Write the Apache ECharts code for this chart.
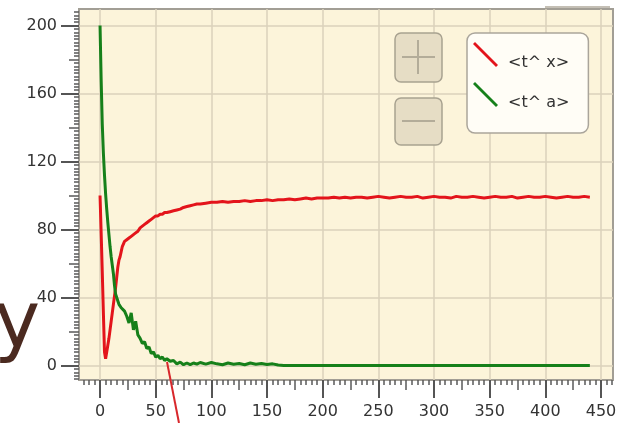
<!DOCTYPE html>
<html>
<head>
<meta charset="utf-8">
<script src="https://cdn.jsdelivr.net/npm/echarts@6/dist/echarts.min.js"></script>
<style>
  html, body { margin: 0; padding: 0; background: #fff; }
  #main { width: 625px; height: 423px; }
</style>
</head>
<body>
<div id="main"></div>
<script>
// time steps (x)
const steps = [0,1,2,3,4,5,6,7,8,9,10,11,12,13,14,15,16,17,18,19,20,
  22,24,26,28,30,32,34,36,38,40,42,44,46,48,50,52,54,56,58,60,
  63,66,69,72,75,78,81,84,87,90,
  95,100,105,110,115,120,125,130,135,140,145,150,155,160,165,170,175,180,185,190,
  195,200,205,210,215,220,225,230,235,240,245,250,255,260,265,270,275,280,285,290,
  295,300,305,310,315,320,325,330,335,340,345,350,355,360,365,370,375,380,385,390,
  395,400,405,410,415,420,425,430,435,440]

// <t^ x>  (red)
const tx = [100,78,55,31,8,4,8,12,16,21,26,31,36,41,46,52,58,62,64,67,70,
  73,74,75,76,77,78,79,81,82,83,84,85,86,87,88,88,89,89,90,90,
  90.5,91,91.5,92,93,93.5,94,94.5,95,95,
  95.5,96,96,96.5,96,96.5,96.5,97,96.5,97,97,97.5,97,97.5,97.5,98,97.5,98,98.5,98,
  98.5,98.5,98.5,99,98.5,99,98.5,99,99,98.5,99,99.5,99,98.5,99,99.5,99,99,99.5,98.5,
  99,99.5,99,99,98.5,99.5,99,99,99.5,99,98.5,99,99.5,99,99,99.5,98.5,99,99.5,99,
  99,99.5,99,98.5,99,99.5,99,99,99.5,99]

// <t^ a>  (green)
const ta = [200,168,142,125,112,101,92,84,77,70,64,59,54,47,42,40,38,36,35,34,33,
  32,29,25,31,21,26,18,16,13,14,10,11,7,8,5,6,4,5,3,4,
  2.5,3,1,2,0.5,1.5,0.5,1.5,0.8,1.8,
  0.8,1.8,1,0.5,1.5,0.8,1.2,0.5,1.5,0.8,1.2,0.6,1,0.3,0,0,0,0,0,0,
  0,0,0,0,0,0,0,0,0,0,0,0,0,0,0,0,0,0,0,0,
  0,0,0,0,0,0,0,0,0,0,0,0,0,0,0,0,0,0,0,0,
  0,0,0,0,0,0,0,0,0,0]

const seriesNames = ['<t^ x>', '<t^ a>']
const xTickLabels = [0, 50, 100, 150, 200, 250, 300, 350, 400, 450]
const yTickLabels = [0, 40, 80, 120, 160, 200]

const FONT = 'DejaVu Sans'
const X_MIN = -18.9, X_MAX = 460.8
const Y_MIN = -8.5, Y_MAX = 209.7

// minor / medium tick positions
const xMid = [], xMinor = [], yMid = [], yMinor = []
for (let v = -15; v <= 460; v += 5) {
  if (v % 50 === 0) continue
  if (v % 25 === 0) xMid.push(v); else xMinor.push(v)
}
for (let v = -8; v <= 208; v += 2) {
  if (v % 40 === 0) continue
  if (v % 20 === 0) yMid.push(v); else yMinor.push(v)
}

function tickAxis(vals, len, pos, isX) {
  return {
    type: 'value', min: isX ? X_MIN : Y_MIN, max: isX ? X_MAX : Y_MAX,
    position: pos, offset: 0,
    axisLine: { show: false, onZero: false },
    axisLabel: { show: false },
    splitLine: { show: false },
    axisTick: { show: true, customValues: vals, length: len, lineStyle: { color: '#5a5a5a', width: 1.5 } }
  }
}

const chart = echarts.init(document.getElementById('main'))
chart.setOption({
  animation: false,
  grid: {
    left: 79, right: 12, top: 9, bottom: 43,
    show: true, backgroundColor: '#fcf4da', borderColor: '#a29e95', borderWidth: 2
  },
  legend: {
    data: seriesNames,
    orient: 'vertical',
    left: 467, top: 33,
    icon: 'path://M2,0 L25,23 L23,25 L0,2 Z',
    itemWidth: 25, itemHeight: 25, itemGap: 11,
    padding: [9, 19, 22, 6],
    backgroundColor: '#fffdf6',
    borderColor: '#aaa59b', borderWidth: 1.5, borderRadius: 8,
    formatter: '{t|{name}}',
    textStyle: {
      fontFamily: FONT, fontSize: 16, color: '#333',
      rich: { t: { fontFamily: FONT, fontSize: 16, color: '#333', padding: [17, 0, 0, 5] } }
    }
  },
  xAxis: [
    {
      type: 'value', min: X_MIN, max: X_MAX, position: 'bottom',
      axisLine: { show: false, onZero: false },
      axisTick: { customValues: xTickLabels, length: 18, lineStyle: { color: '#555', width: 2 } },
      axisLabel: { customValues: xTickLabels, margin: 24, fontFamily: FONT, fontSize: 16, color: '#333' },
      splitLine: { show: true, lineStyle: { color: '#dbd2bb', width: 1.5 } }
    },
    tickAxis(xMid, 10, 'bottom', true),
    tickAxis(xMinor, 5, 'bottom', true)
  ],
  yAxis: [
    {
      type: 'value', min: Y_MIN, max: Y_MAX, position: 'left',
      axisLine: { show: false, onZero: false },
      axisTick: { customValues: yTickLabels, length: 18, lineStyle: { color: '#555', width: 2 } },
      axisLabel: { customValues: yTickLabels, margin: 22, fontFamily: FONT, fontSize: 16, color: '#333' },
      splitLine: { show: true, lineStyle: { color: '#dbd2bb', width: 1.5 } }
    },
    tickAxis(yMid, 10, 'left', false),
    tickAxis(yMinor, 5, 'left', false)
  ],
  series: [
    {
      name: seriesNames[0], type: 'line', xAxisIndex: 0, yAxisIndex: 0,
      data: steps.map((s, i) => [s, tx[i]]),
      showSymbol: false, color: '#e3141b',
      lineStyle: { width: 3, color: '#e3141b' }
    },
    {
      name: seriesNames[1], type: 'line', xAxisIndex: 0, yAxisIndex: 0,
      data: steps.map((s, i) => [s, ta[i]]),
      showSymbol: false, color: '#16801a',
      lineStyle: { width: 3, color: '#16801a' }
    }
  ],
  graphic: [
    // zoom buttons
    { type: 'rect', z: 100, shape: { x: 395, y: 33, width: 47, height: 49, r: 6 },
      style: { fill: '#e6ddc5', stroke: '#a8a290', lineWidth: 1.5 } },
    { type: 'line', z: 101, shape: { x1: 402, y1: 57, x2: 435, y2: 57 }, style: { stroke: '#b3ac99', lineWidth: 2 } },
    { type: 'line', z: 101, shape: { x1: 418, y1: 40, x2: 418, y2: 74 }, style: { stroke: '#b3ac99', lineWidth: 2 } },
    { type: 'rect', z: 100, shape: { x: 395, y: 98, width: 47, height: 47, r: 6 },
      style: { fill: '#e6ddc5', stroke: '#a8a290', lineWidth: 1.5 } },
    { type: 'line', z: 101, shape: { x1: 402, y1: 121, x2: 435, y2: 121 }, style: { stroke: '#b3ac99', lineWidth: 2 } },
    // stray bits of the screenshot
    { type: 'line', z: 100, shape: { x1: 545, y1: 7, x2: 610, y2: 7 }, style: { stroke: '#c4bfb5', lineWidth: 2 } },
    { type: 'text', z: 100, x: -6, y: 288,
      style: { text: 'y', font: '78px "DejaVu Sans"', fill: '#4b2a20', verticalAlign: 'top' } },
    { type: 'line', z: 100, shape: { x1: 167, y1: 362, x2: 179, y2: 423 }, style: { stroke: '#d8282c', lineWidth: 2 } }
  ]
})
</script>
</body>
</html>
